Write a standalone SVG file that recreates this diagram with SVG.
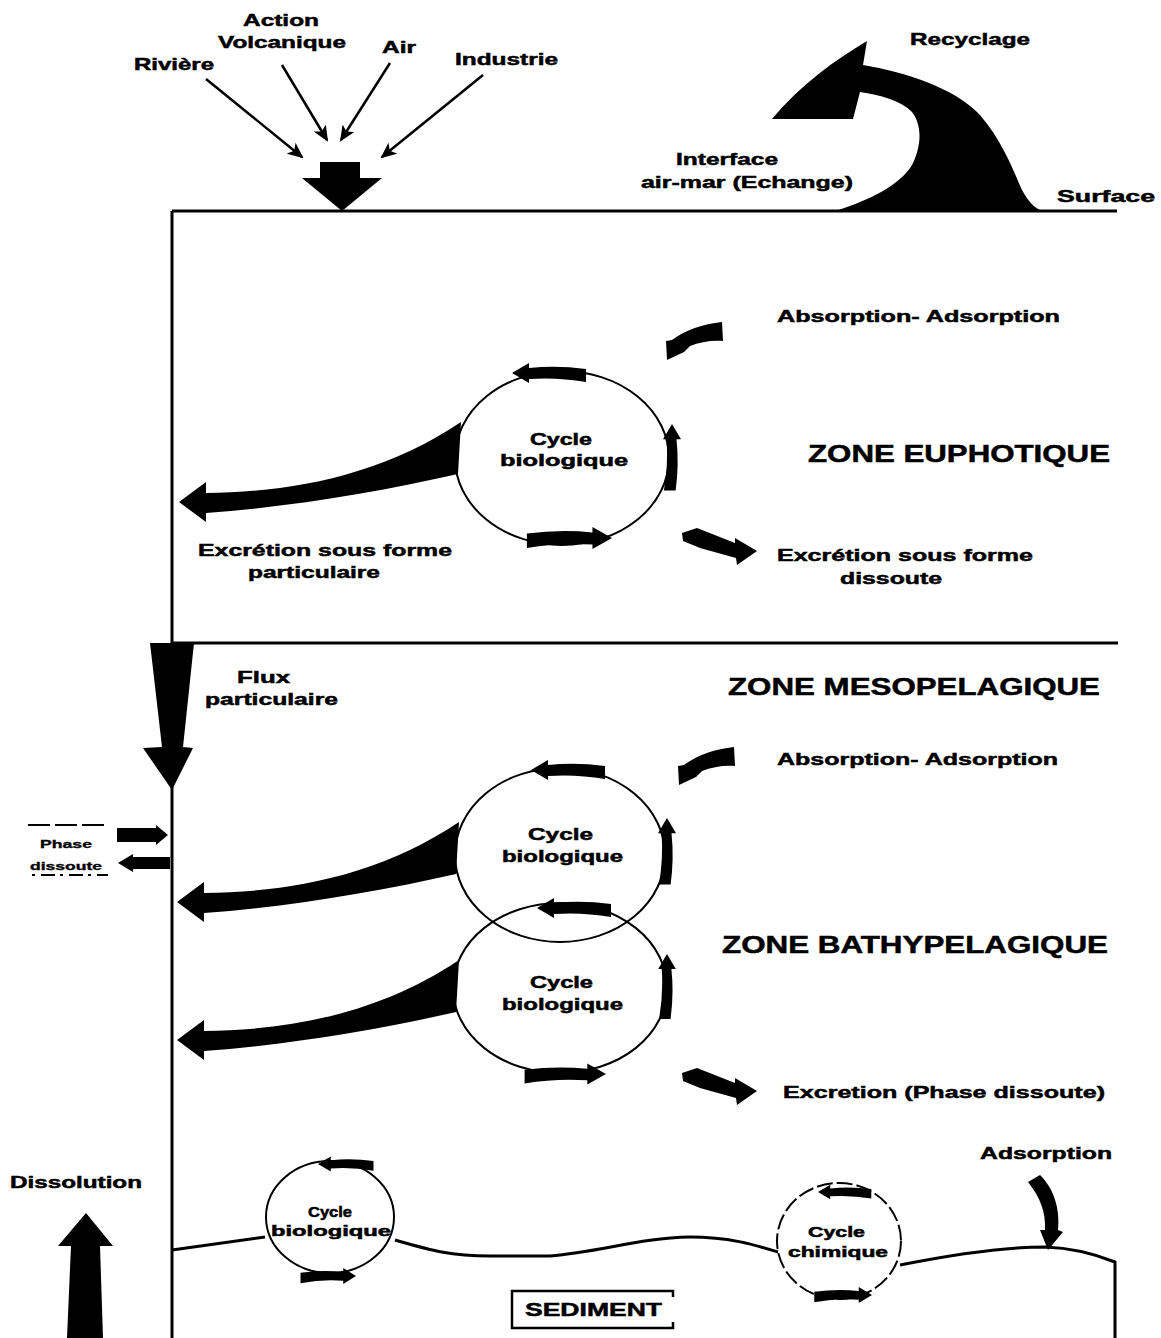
<svg xmlns="http://www.w3.org/2000/svg" xmlns:xlink="http://www.w3.org/1999/xlink" width="1161" height="1338" viewBox="0 0 1161 1338">
<style>
text{font-family:"Liberation Sans",Arial,sans-serif;font-weight:bold;fill:#000;stroke:#000;stroke-width:0.5}
.t{font-size:17px}
.z{font-size:24px}
.c{font-size:16px}
.s{font-size:14px}
.xs{font-size:10px;stroke-width:0.3}
.ln{stroke:#000;stroke-width:3;fill:none}
.thin{stroke:#000;stroke-width:2.5;fill:none}
.circ{stroke:#000;stroke-width:2;fill:none}
.blk{fill:#000;stroke:none}
</style>
<defs>
<marker id="ah" markerUnits="userSpaceOnUse" markerWidth="16" markerHeight="14" viewBox="0 0 16 14" refX="14" refY="7" orient="auto">
<path d="M0,0 L16,7 L0,14 L4,7 Z" fill="#000"/>
</marker>
<path id="ca" d="M0,0 L17,-10 L17,-5 Q45,-8 74,-4 L74,9 Q45,4 17,6 L17,10 Z"/>
<path id="wedge" d="M0,0 L27,-20 L27,-9 C110,-10 200,-25 282,-80 L279,-28 C200,-10 110,5 27,11 L27,20 Z"/>
<path id="absorb" d="M722,322 L723,341 C712,340 700,342 690,346 L684,352 L667,360 L666,341 L672,340 C685,330 703,324 722,322 Z"/>
<path id="excr" d="M682,533 L697,528 L735,543 L735,538 L757,551 L737,565 L736,558 L700,548 L683,541 Z"/>
</defs>
<rect width="1161" height="1338" fill="#fff"/>

<g id="structure">
<path class="ln" d="M172,211 L1117,211"/>
<path class="ln" d="M172,211 L172,1338"/>
<path class="ln" d="M172,643 L1118,643"/>
<path class="ln" d="M172,1250 L265,1237 M395,1240 C430,1250 450,1256 490,1256 L550,1256 C600,1252 640,1238 690,1237 C730,1237 755,1245 778,1252 M900,1265 C950,1255 1000,1247 1045,1247 C1075,1248 1100,1256 1115,1262 L1115,1338"/>
</g>

<g id="sources">
<text class="t" x="243" y="26" textLength="76" lengthAdjust="spacingAndGlyphs">Action</text>
<text class="t" x="218" y="48" textLength="128" lengthAdjust="spacingAndGlyphs">Volcanique</text>
<text class="t" x="134" y="70" textLength="80" lengthAdjust="spacingAndGlyphs">Rivière</text>
<text class="t" x="382" y="53" textLength="34" lengthAdjust="spacingAndGlyphs">Air</text>
<text class="t" x="455" y="65" textLength="103" lengthAdjust="spacingAndGlyphs">Industrie</text>
</g>

<g id="recyclage">
<path class="blk" d="M835,211 C870,200 900,185 912,165 C922,145 922,125 912,112 C900,100 880,95 860,92 L853,119 L772,119 C800,85 835,60 867,41 L863,65 C905,72 955,88 980,115 C1003,142 1013,170 1022,190 C1029,203 1035,208 1042,211 Z"/>
<text class="t" x="910" y="45" textLength="120" lengthAdjust="spacingAndGlyphs">Recyclage</text>
<text class="t" x="676" y="165" textLength="102" lengthAdjust="spacingAndGlyphs">Interface</text>
<text class="t" x="641" y="188" textLength="212" lengthAdjust="spacingAndGlyphs">air-mar (Echange)</text>
<text class="t" x="1057" y="202" textLength="98" lengthAdjust="spacingAndGlyphs">Surface</text>
</g>

<g id="zone-euphotique">
<text class="z" x="808" y="462" textLength="302" lengthAdjust="spacingAndGlyphs">ZONE EUPHOTIQUE</text>
<text class="t" x="777" y="322" textLength="283" lengthAdjust="spacingAndGlyphs">Absorption- Adsorption</text>
<text class="t" x="198" y="556" textLength="254" lengthAdjust="spacingAndGlyphs">Excrétion sous forme</text>
<text class="t" x="248" y="578" textLength="132" lengthAdjust="spacingAndGlyphs">particulaire</text>
<text class="t" x="777" y="561" textLength="256" lengthAdjust="spacingAndGlyphs">Excrétion sous forme</text>
<text class="t" x="840" y="584" textLength="102" lengthAdjust="spacingAndGlyphs">dissoute</text>
</g>

<g id="cycle-1">
<ellipse class="circ" cx="562" cy="458" rx="107" ry="87"/>
<text class="c" x="530" y="445" textLength="62" lengthAdjust="spacingAndGlyphs">Cycle</text>
<text class="c" x="500" y="466" textLength="128" lengthAdjust="spacingAndGlyphs">biologique</text>
</g>

<g id="zone-meso">
<text class="z" x="728" y="695" textLength="372" lengthAdjust="spacingAndGlyphs">ZONE MESOPELAGIQUE</text>
<text class="t" x="777" y="765" textLength="281" lengthAdjust="spacingAndGlyphs">Absorption- Adsorption</text>
<text class="t" x="237" y="683" textLength="53" lengthAdjust="spacingAndGlyphs">Flux</text>
<text class="t" x="205" y="705" textLength="133" lengthAdjust="spacingAndGlyphs">particulaire</text>
</g>

<g id="phase-dissoute">
<path stroke="#000" stroke-width="2" fill="none" stroke-dasharray="22,5" d="M28,825 L108,825"/>
<path stroke="#000" stroke-width="2" fill="none" stroke-dasharray="3,6,14,5" d="M32,875 L108,875"/>
<text class="xs" x="40" y="848" textLength="52" lengthAdjust="spacingAndGlyphs">Phase</text>
<text class="xs" x="30" y="870" textLength="72" lengthAdjust="spacingAndGlyphs">dissoute</text>
</g>

<g id="cycle-2">
<ellipse class="circ" cx="560" cy="855" rx="105" ry="87"/>
<text class="c" x="528" y="840" textLength="65" lengthAdjust="spacingAndGlyphs">Cycle</text>
<text class="c" x="502" y="862" textLength="121" lengthAdjust="spacingAndGlyphs">biologique</text>
</g>

<g id="zone-bathy">
<text class="z" x="722" y="953" textLength="386" lengthAdjust="spacingAndGlyphs">ZONE BATHYPELAGIQUE</text>
<text class="t" x="783" y="1098" textLength="322" lengthAdjust="spacingAndGlyphs">Excretion (Phase dissoute)</text>
</g>

<g id="cycle-3">
<ellipse class="circ" cx="560" cy="988" rx="107" ry="85"/>
<text class="c" x="530" y="988" textLength="63" lengthAdjust="spacingAndGlyphs">Cycle</text>
<text class="c" x="502" y="1010" textLength="121" lengthAdjust="spacingAndGlyphs">biologique</text>
</g>

<g id="cycle-sediment-bio">
<ellipse class="circ" cx="330" cy="1217" rx="64" ry="56"/>
<text class="s" x="308" y="1217" textLength="44" lengthAdjust="spacingAndGlyphs">Cycle</text>
<text class="s" x="271" y="1236" textLength="120" lengthAdjust="spacingAndGlyphs">biologique</text>
</g>

<g id="cycle-chimique">
<ellipse class="circ" cx="839" cy="1241" rx="62" ry="58" stroke-dasharray="16,4"/>
<text class="s" x="808" y="1237" textLength="57" lengthAdjust="spacingAndGlyphs">Cycle</text>
<text class="s" x="788" y="1257" textLength="100" lengthAdjust="spacingAndGlyphs">chimique</text>
</g>

<g id="sediment">
<path stroke="#000" stroke-width="2.5" fill="none" d="M673,1297 L673,1291 L512,1291 L512,1328 L673,1328 L673,1322"/>
<text x="525" y="1316" font-size="18" textLength="137" lengthAdjust="spacingAndGlyphs">SEDIMENT</text>
<text class="t" x="980" y="1159" textLength="132" lengthAdjust="spacingAndGlyphs">Adsorption</text>
<text class="t" x="10" y="1188" textLength="132" lengthAdjust="spacingAndGlyphs">Dissolution</text>
</g>

<g id="connectors">
<path class="thin" marker-end="url(#ah)" d="M206,79 L302,157"/>
<path class="thin" marker-end="url(#ah)" d="M282,65 L327,140"/>
<path class="thin" marker-end="url(#ah)" d="M390,63 L341,140"/>
<path class="thin" marker-end="url(#ah)" d="M483,75 L382,157"/>
<polygon class="blk" points="320,162 360,162 360,178 382,178 342,211 302,178 320,178"/>
<polygon class="blk" points="150,643 194,643 183,747 193,748 172,790 143,748 162,747"/>
<polygon class="blk" points="117,828 156,828 156,825 168,835 156,845 156,842 117,842"/>
<polygon class="blk" points="170,857 133,857 133,854 118,863 133,872 133,869 170,869"/>
<use href="#wedge" xlink:href="#wedge" transform="translate(179,502)"/>
<use href="#wedge" xlink:href="#wedge" transform="translate(177,902)"/>
<use href="#wedge" xlink:href="#wedge" transform="translate(177,1040)"/>
<use href="#ca" xlink:href="#ca" transform="translate(512,373)"/>
<use href="#ca" xlink:href="#ca" transform="translate(672,424) rotate(90) scale(0.9)"/>
<use href="#ca" xlink:href="#ca" transform="translate(612,538) scale(-1.15,1.1)"/>
<use href="#ca" xlink:href="#ca" transform="translate(531,770)"/>
<use href="#ca" xlink:href="#ca" transform="translate(667,818) rotate(90) scale(0.9)"/>
<use href="#ca" xlink:href="#ca" transform="translate(537,908)"/>
<use href="#ca" xlink:href="#ca" transform="translate(667,954) rotate(90) scale(0.88)"/>
<use href="#ca" xlink:href="#ca" transform="translate(606,1074) scale(-1.1,1.05)"/>
<use href="#ca" xlink:href="#ca" transform="translate(318,1164) scale(0.75)"/>
<use href="#ca" xlink:href="#ca" transform="translate(356,1276) scale(-0.75,0.8)"/>
<use href="#ca" xlink:href="#ca" transform="translate(818,1192) scale(0.72)"/>
<use href="#ca" xlink:href="#ca" transform="translate(872,1295) scale(-0.78,0.8)"/>
<use href="#absorb" xlink:href="#absorb"/>
<use href="#absorb" xlink:href="#absorb" transform="translate(12,425)"/>
<use href="#excr" xlink:href="#excr"/>
<use href="#excr" xlink:href="#excr" transform="translate(0,540)"/>
<path class="blk" d="M1028,1182 L1040,1175 C1055,1190 1060,1210 1058,1230 L1063,1232 L1048,1250 L1040,1230 L1045,1230 C1046,1212 1040,1197 1028,1182 Z"/>
<path class="blk" d="M86,1213 L113,1246 L100,1246 L103,1338 L67,1338 L71,1246 L58,1246 Z"/>
</g>
</svg>
